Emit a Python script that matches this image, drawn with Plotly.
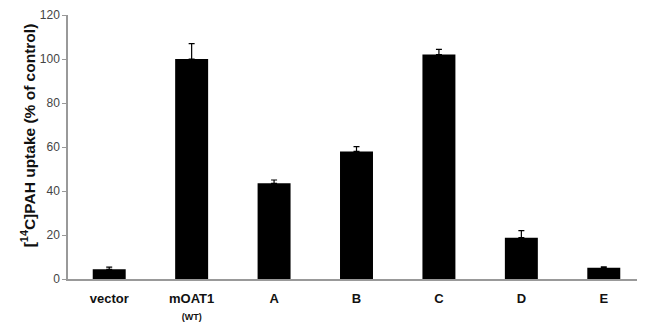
import plotly.graph_objects as go

categories = ["vector", "mOAT1", "A", "B", "C", "D", "E"]
tick_labels = ["vector", "mOAT1<br><span style='font-size:9px'>(WT)</span>", "A", "B", "C", "D", "E"]
uptake = [4.4, 100, 43.5, 58, 102, 18.8, 5.1]
error_up = [1.0, 7.0, 1.5, 2.2, 2.4, 3.2, 0.4]
y_ticks = [0, 20, 40, 60, 80, 100, 120]
y_title = "[<sup>14</sup>C]PAH uptake (% of control)"

fig = go.Figure(
    go.Bar(
        x=categories,
        y=uptake,
        width=0.4,
        marker=dict(color="black", line=dict(width=0)),
        error_y=dict(type="data", symmetric=False, array=error_up,
                     arrayminus=[0] * len(error_up),
                     color="black", thickness=1.2, width=3),
    )
)

fig.update_layout(
    width=637, height=320,
    margin=dict(l=60, r=0, t=7, b=49),
    plot_bgcolor="white", paper_bgcolor="white",
    showlegend=False,
    font=dict(family="Liberation Sans, Arial, sans-serif", color="#222"),
)
fig.add_annotation(
    text=y_title, textangle=-90,
    xref="paper", yref="paper", x=-0.069, y=0.545,
    xanchor="center", yanchor="middle", showarrow=False,
    font=dict(size=15.5, color="#111", weight="bold"),
)
fig.update_xaxes(
    range=[-0.5, 6.5], automargin=False,
    tickvals=categories, ticktext=tick_labels,
    showline=True, linecolor="#999", linewidth=1.5,
    showgrid=False, ticks="",
    ticklabelstandoff=7,
    tickfont=dict(size=13, color="#111", family="Liberation Sans, Arial, sans-serif", weight="bold"),
)
fig.update_yaxes(
    range=[0, 120], tickvals=y_ticks, automargin=False,
    showline=True, linecolor="#999", linewidth=1.5,
    ticks="outside", ticklen=4, tickcolor="#999",
    showgrid=False, zeroline=False,
    tickfont=dict(size=12, color="#444"),
)

fig.write_html("out.html")
